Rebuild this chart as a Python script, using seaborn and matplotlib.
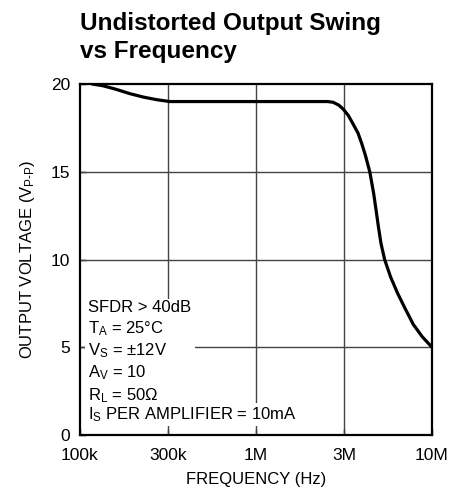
import numpy as np
import pandas as pd
import matplotlib
matplotlib.use("Agg")
import matplotlib.pyplot as plt
import seaborn as sns

# curve
freq_hz = [1.17e5, 1.35e5, 1.6e5, 1.92e5, 2.3e5, 2.75e5, 3.24e5, 5e5, 1e6, 1.6e6,
           2.31e6, 2.55e6, 2.74e6, 2.95e6, 3.13e6, 3.35e6, 3.57e6, 3.8e6, 3.99e6,
           4.18e6, 4.43e6, 4.66e6, 4.81e6, 4.96e6, 5.13e6, 5.38e6, 5.82e6, 6.38e6,
           7.0e6, 7.83e6, 8.8e6, 1e7]
vout_pp = [20.0, 19.9, 19.7, 19.45, 19.25, 19.1, 19.0, 19.0, 19.0, 19.0,
           19.0, 19.0, 18.96, 18.8, 18.57, 18.2, 17.7, 17.2, 16.6,
           15.95, 15.0, 13.77, 12.82, 11.87, 10.92, 10.0, 9.0, 8.07,
           7.25, 6.3, 5.6, 5.0]

# datasheet grid is evenly spaced in log: 100k, ~300k, 1M, ~3M, 10M
tick_pos = [1e5, 10**5.5, 1e6, 10**6.5, 1e7]
tick_lbl = ["100k", "300k", "1M", "3M", "10M"]
y_ticks = [0, 5, 10, 15, 20]

conditions = ["SFDR > 40dB",
              "T$_\\mathregular{A}$ = 25°C",
              "V$_\\mathregular{S}$ = ±12V",
              "A$_\\mathregular{V}$ = 10",
              "R$_\\mathregular{L}$ = 50Ω"]
supply_note = "I$_\\mathregular{S}$ PER AMPLIFIER = 10mA"

sns.set_style("white")
plt.rcParams['font.family'] = ['Liberation Sans', 'DejaVu Sans']
plt.rcParams['mathtext.fontset'] = 'custom'
plt.rcParams['mathtext.rm'] = 'Liberation Sans'
plt.rcParams['mathtext.it'] = 'Liberation Sans'
plt.rcParams['text.color'] = 'black'
plt.rcParams['axes.labelcolor'] = 'black'
plt.rcParams['xtick.color'] = 'black'
plt.rcParams['ytick.color'] = 'black'

df = pd.DataFrame({"f": freq_hz, "v": vout_pp})

fig = plt.figure(figsize=(4.51, 4.94), dpi=100)
ax = fig.add_axes([80/451, 1 - 435/494, 352/451, 351/494])

ax.set_xscale("log")
ax.set_xlim(1e5, 1e7)
ax.set_ylim(0, 20)

# grid drawn by hand so the condition text can sit on top of it
for x in tick_pos[1:-1]:
    ax.axvline(x, color="#444444", lw=1.0, zorder=1)
for y in y_ticks[1:-1]:
    ax.axhline(y, color="#444444", lw=1.0, zorder=1)

sns.lineplot(data=df, x="f", y="v", ax=ax, color="black", lw=2.3, zorder=3)

ax.set_xticks(tick_pos)
ax.set_xticklabels(tick_lbl)
ax.xaxis.set_minor_locator(matplotlib.ticker.NullLocator())
ax.set_yticks(y_ticks)
ax.tick_params(direction="in", length=4, width=1, labelsize=12.5,
               bottom=True, left=True)
ax.tick_params(axis="x", pad=9)
ax.tick_params(axis="y", pad=7)
for s in ax.spines.values():
    s.set_linewidth(1.6)
    s.set_color("black")

ax.set_xlabel("FREQUENCY (Hz)", fontsize=12, labelpad=7)
ax.set_ylabel("OUTPUT VOLTAGE (V$_\\mathregular{P\\text{-}P}$)", fontsize=12, labelpad=10)

# test conditions: two white blocks, like the datasheet
ax.text(8/352, (435 - 400)/351, "\n".join(conditions), transform=ax.transAxes,
        fontsize=12, va="baseline", ha="left", linespacing=1.26, zorder=2,
        bbox=dict(facecolor="white", edgecolor="none", pad=2.5))
ax.text(8/352, (435 - 419)/351, supply_note, transform=ax.transAxes,
        fontsize=12, va="baseline", ha="left", zorder=2,
        bbox=dict(facecolor="white", edgecolor="none", pad=1.5))

fig.text(80/451, 1 - 12/494, "Undistorted Output Swing\nvs Frequency",
         fontsize=17.5, fontweight="bold", va="top", ha="left", linespacing=1.3)

fig.savefig("out.png", dpi=100)
